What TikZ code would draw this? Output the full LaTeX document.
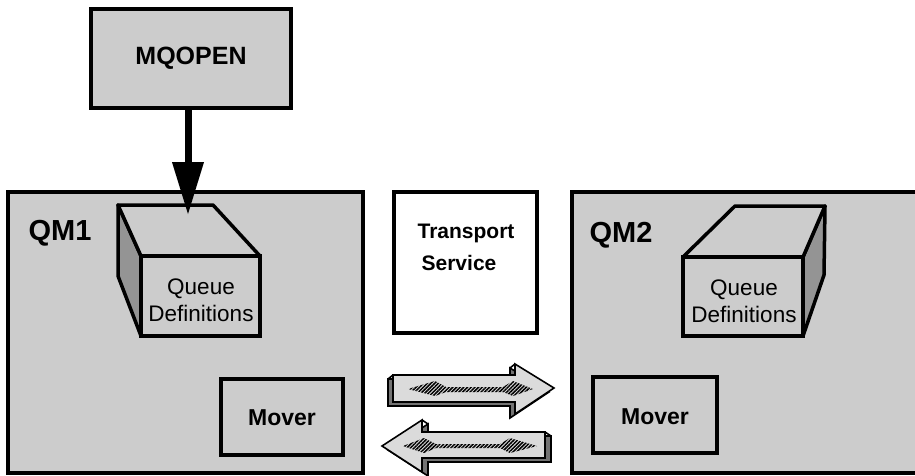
\documentclass[tikz,border=0pt]{standalone}
\usepackage{fontspec}
\setmainfont{Liberation Sans}
\usetikzlibrary{arrows.meta,patterns.meta}

\definecolor{halftone}{gray}{0.80}
\definecolor{sideshade}{gray}{0.58}
\definecolor{arrowface}{gray}{0.86}
\definecolor{arrowside}{gray}{0.45}

\tikzset{
  frame/.style={draw, line width=4.5pt, fill=halftone, inner sep=0pt},
  box/.style={draw, line width=3.5pt, fill=halftone, inner sep=0pt},
  facet/.style={draw, line width=3.5pt, line join=round},
  qmlabel/.style={font=\bfseries\fontsize{29}{30}\selectfont, inner sep=0pt},
  deftext/.style={font=\fontsize{22.5}{27}\selectfont, align=center, inner sep=0pt},
  movertext/.style={font=\bfseries\fontsize{23}{27}\selectfont, inner sep=0pt},
  transtext/.style={font=\bfseries\fontsize{21}{24}\selectfont, inner sep=0pt},
  flowface/.style={draw, line width=1.6pt, line join=miter, fill=arrowface},
  flowside/.style={draw, line width=1.6pt, line join=miter, fill=arrowside},
  hatched/.style={pattern={Lines[angle=45, distance=2.6pt, line width=1.5pt]}, pattern color=black},
}

\begin{document}
\begin{tikzpicture}[x=1pt, y=-1pt]
\useasboundingbox (0,0) rectangle (915,476);
\clip (0,0) rectangle (915,476);

% queue manager frames
\node[frame, minimum width=355pt, minimum height=281pt] (qm1) at (185.5,332.5) {};
\node[frame, minimum width=390pt, minimum height=281pt] (qm2) at (767,332.5) {};
\node[qmlabel] (qm1lbl) at (60,233) {QM1};
\node[qmlabel] (qm2lbl) at (621,235) {QM2};

% queue definitions cube in QM1
\filldraw[facet, fill=sideshade] (118,205) -- (141,256) -- (141,336) -- (118,276) -- cycle;
\filldraw[facet, fill=halftone] (118,205) -- (213,205) -- (260,256) -- (141,256) -- cycle;
\node[box, minimum width=119pt, minimum height=80pt] (qd1) at (200.5,296) {};
\node[deftext] (qd1txt) at (201,300) {Queue\\Definitions};

% queue definitions cube in QM2
\filldraw[facet, fill=sideshade] (825,206) -- (803,257) -- (803,336) -- (824,275) -- cycle;
\filldraw[facet, fill=halftone] (735,206) -- (825,206) -- (803,257) -- (683,257) -- cycle;
\node[box, minimum width=120pt, minimum height=79pt] (qd2) at (743,296.5) {};
\node[deftext] (qd2txt) at (744,301) {Queue\\Definitions};

% movers
\node[box, minimum width=122pt, minimum height=76pt] (mv1) at (282,417) {};
\node[movertext] (mv1txt) at (282,418) {Mover};
\node[box, minimum width=124pt, minimum height=76pt] (mv2) at (655,415) {};
\node[movertext] (mv2txt) at (655,417) {Mover};

% transport service
\node[draw, line width=4.5pt, fill=white, inner sep=0pt,
      minimum width=143pt, minimum height=141pt] (ts) at (465.5,262.5) {};
\node[transtext] (tstxt1) at (466,233) {Transport};
\node[transtext] (tstxt2) at (459,263) {Service};

% flow towards QM2 (3-D arrow pointing right)
\filldraw[flowside, shift={(-5,4)}]
  (393,375) -- (515,375) -- (515,364) -- (554,388) -- (515,414) -- (515,402) -- (393,402) -- cycle;
\draw[line width=1.6pt] (388,379) -- (393,375) (510,368) -- (515,364);
\filldraw[flowface]
  (393,375) -- (515,375) -- (515,364) -- (554,388) -- (515,414) -- (515,402) -- (393,402) -- cycle;
\fill[hatched]
  (408,389) -- (435,381) -- (446,387) -- (503,387) -- (513,381) -- (533,389)
  -- (513,396) -- (503,392) -- (446,392) -- (435,396) -- cycle;

% flow towards QM1 (3-D arrow pointing left)
\filldraw[flowside, shift={(6,4)}]
  (382,446) -- (422,420) -- (422,432) -- (545,432) -- (545,458) -- (422,458) -- (422,472) -- cycle;
\draw[line width=1.6pt] (545,432) -- (551,436) (422,420) -- (428,424);
\filldraw[flowface]
  (382,446) -- (422,420) -- (422,432) -- (545,432) -- (545,458) -- (422,458) -- (422,472) -- cycle;
\fill[hatched]
  (403,446) -- (424,438) -- (436,444) -- (500,444) -- (510,438) -- (537,446)
  -- (510,453) -- (500,448) -- (436,448) -- (424,453) -- cycle;

% MQOPEN call into the queue definitions
\node[box, minimum width=200pt, minimum height=99pt,
      font=\bfseries\fontsize{25}{28}\selectfont] (mq) at (191,58.5) {MQOPEN};
\coordinate (mqtip) at (188,215);
\draw[line width=7pt, -{Triangle[length=53pt,width=30pt]}] (mq.south -| mqtip) -- (mqtip);
\end{tikzpicture}
\end{document}
